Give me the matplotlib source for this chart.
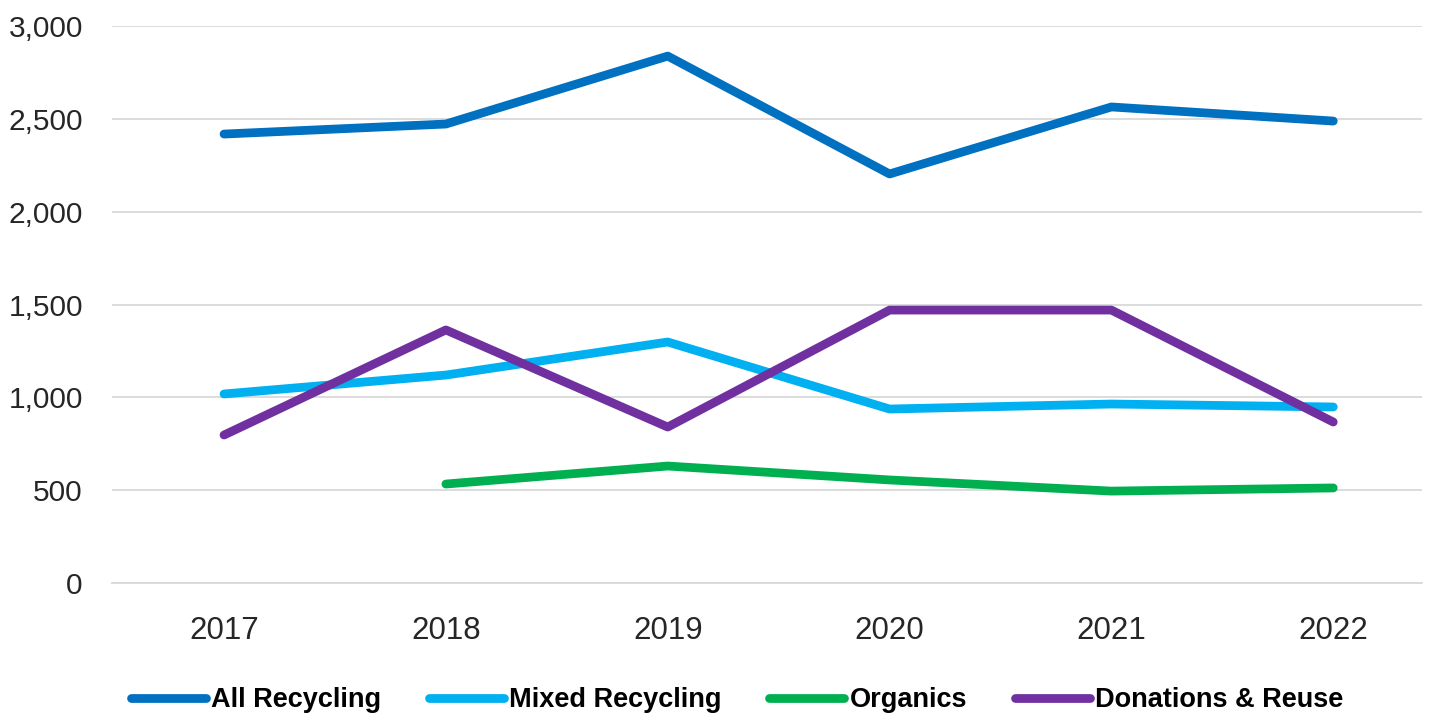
import matplotlib
matplotlib.use("Agg")
import matplotlib.pyplot as plt
import numpy as np

years = ["2017", "2018", "2019", "2020", "2021", "2022"]
all_recycling = [2418, 2472, 2838, 2203, 2564, 2488]
mixed_recycling = [1018, 1120, 1298, 937, 964, 948]
organics = [np.nan, 533, 630, 555, 495, 512]
donations_reuse = [797, 1363, 840, 1470, 1470, 867]

series = [
    ("All Recycling", all_recycling, "#0070C0"),
    ("Mixed Recycling", mixed_recycling, "#00B0F0"),
    ("Organics", organics, "#00B050"),
    ("Donations & Reuse", donations_reuse, "#7030A0"),
]

plt.rcParams["font.family"] = ["Liberation Sans", "DejaVu Sans"]

fig = plt.figure(figsize=(14.37, 7.17), dpi=100)
ax = fig.add_axes([112 / 1437, 1 - 583 / 717, 1310 / 1437, 557 / 717])

x = np.arange(len(years))
for name, vals, col in series:
    ax.plot(x, vals, color=col, linewidth=6.3, label=name,
            solid_capstyle="round", solid_joinstyle="round")

ax.set_xlim(-0.505, 5.40)
ax.set_ylim(0, 3000)
ax.set_yticks(range(0, 3001, 500))
ax.yaxis.set_major_formatter(matplotlib.ticker.FuncFormatter(lambda v, p: f"{int(v):,}"))
ax.set_xticks(x)
ax.set_xticklabels(years)
ax.grid(axis="y", color="#D9D9D9", linewidth=1.3)
ax.set_axisbelow(True)
for s in ["top", "right", "left"]:
    ax.spines[s].set_visible(False)
ax.spines["bottom"].set_color("#D9D9D9")
ax.spines["bottom"].set_linewidth(1.3)
ax.tick_params(axis="x", length=0, labelsize=22.5, colors="#262626", pad=24)
ax.tick_params(axis="y", length=0, labelsize=21.5, colors="#262626", pad=21)

leg = fig.legend(loc="center", bbox_to_anchor=(0.513, 1 - 700 / 717), ncol=4, frameon=False,
                 prop={"weight": "bold", "size": 19.5}, handlelength=2.77, handletextpad=0.2,
                 columnspacing=1.75)
for t in leg.get_texts():
    t.set_color("#000000")
for h in leg.legend_handles:
    h.set_solid_capstyle("round")

fig.savefig("out.png", dpi=100)
